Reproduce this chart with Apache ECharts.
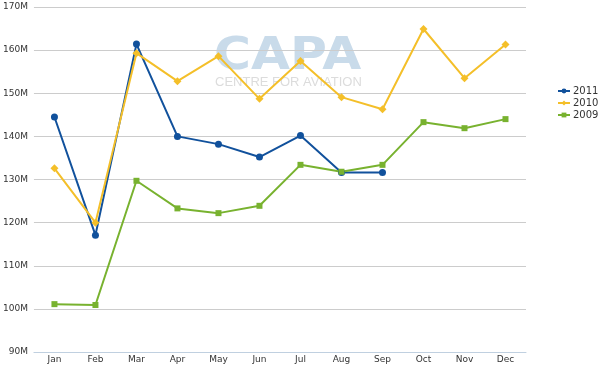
<!DOCTYPE html>
<html><head><meta charset="utf-8">
<script src="https://cdn.jsdelivr.net/npm/echarts@6/dist/echarts.min.js"></script>
<style>html,body{margin:0;padding:0;background:#fff}#c{width:600px;height:368px}</style>
</head><body><div id="c"></div>
<script>
const months = ['Jan','Feb','Mar','Apr','May','Jun','Jul','Aug','Sep','Oct','Nov','Dec'];
const s2011 = [144.5,117.1,161.4,140.0,138.2,135.2,140.2,131.6,131.6,null,null,null];
const s2010 = [132.6,120.0,159.3,152.8,158.6,148.7,157.5,149.1,146.3,164.9,153.5,161.3];
const s2009 = [101.1,100.9,129.7,123.3,122.2,123.9,133.4,131.8,133.4,143.3,141.9,144.0];
const yTicks = {min:90, max:170, interval:10};

const chart = echarts.init(document.getElementById('c'));
function ser(name, data, color, symbol, size){
  return {name, type:'line', data, symbol, symbolSize:size, showSymbol:true,
    lineStyle:{color, width:2}, itemStyle:{color}, connectNulls:false, animation:false};
}
chart.setOption({
  animation:false,
  grid:{left:32, right:74, top:7, bottom:16, containLabel:false},
  graphic:[
    {type:'text', x:214, y:35, scaleX:1.12, silent:true, z:0,
     style:{text:'CAPA', font:'bold 45px "DejaVu Sans", sans-serif', fill:'#c9dbea'}},
    {type:'text', left:215, top:76, silent:true, z:0,
     style:{text:'CENTRE FOR AVIATION', font:'13px "Liberation Sans", Arial, sans-serif', fill:'#dcdcdc'}}
  ],
  legend:{orient:'vertical', left:557, top:86, padding:0, itemWidth:12, itemHeight:6, itemGap:2,
    data:['2011','2010','2009'],
    textStyle:{fontSize:10, color:'#333', padding:[0,0,0,-2], fontFamily:'"DejaVu Sans", sans-serif'}},
  xAxis:{type:'category', data:months, boundaryGap:true,
    axisLine:{lineStyle:{color:'#c0d0e0'}},
    axisTick:{lineStyle:{color:'#c0d0e0'}, length:4},
    axisLabel:{fontSize:9, color:'#333', margin:3, fontFamily:'"DejaVu Sans", sans-serif'},
    splitLine:{show:false}},
  yAxis:{type:'value', min:yTicks.min, max:yTicks.max, interval:yTicks.interval,
    axisLine:{show:false}, axisTick:{show:false},
    axisLabel:{fontSize:9, color:'#333', margin:6, formatter:v=>v+'M', fontFamily:'"DejaVu Sans", sans-serif'},
    splitLine:{lineStyle:{color:'#cccccc'}}},
  series:[
    ser('2011', s2011, '#11519c', 'circle', 7),
    ser('2010', s2010, '#f4bf29', 'diamond', 8),
    ser('2009', s2009, '#78b22f', 'rect', 6)
  ]
});
</script></body></html>
